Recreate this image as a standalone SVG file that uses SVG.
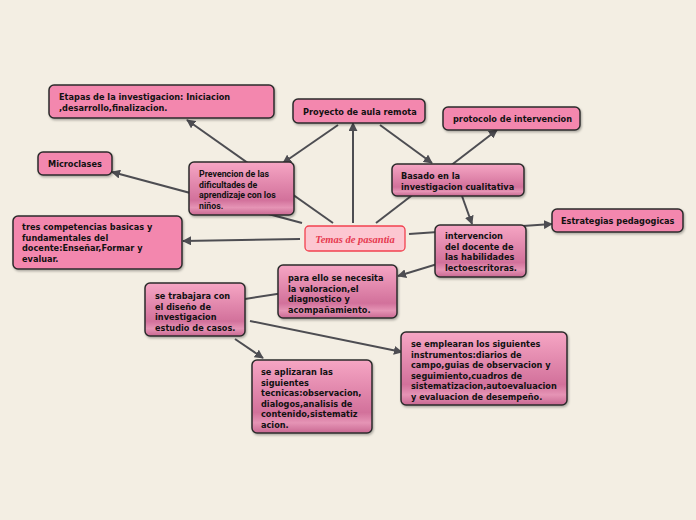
<svg xmlns="http://www.w3.org/2000/svg" width="696" height="520" viewBox="0 0 696 520">
<defs>
<linearGradient id="g" x1="0" y1="0" x2="0" y2="1">
<stop offset="0" stop-color="#f6a6c4"/>
<stop offset="0.72" stop-color="#d2719b"/>
<stop offset="0.86" stop-color="#e594b5"/>
<stop offset="1" stop-color="#c96892"/>
</linearGradient>
<filter id="sh" x="-10%" y="-10%" width="130%" height="140%">
<feDropShadow dx="1" dy="1.5" stdDeviation="1" flood-color="#000" flood-opacity="0.3"/>
</filter>
<marker id="ah" viewBox="0 0 10 10" refX="9" refY="5" markerWidth="4.5" markerHeight="4.5" orient="auto" markerUnits="strokeWidth">
<path d="M0,0 L10,5 L0,10 z" fill="#4d4d52"/>
</marker>
<style>
.flat{fill:#f387ae;stroke:#2b2b2b;stroke-width:1.5;filter:url(#sh)}
.grad{fill:url(#g);stroke:#2b2b2b;stroke-width:1.5;filter:url(#sh)}
.t{font-family:"DejaVu Sans Condensed","DejaVu Sans",sans-serif;font-weight:bold;font-size:9.1px;fill:#111}
.r{font-family:Roboto,"Liberation Sans",sans-serif;font-weight:bold;font-size:8.8px;fill:#111}
.c{fill:none;stroke:#4d4d52;stroke-width:2}
.a{marker-end:url(#ah)}
</style>
</defs>
<rect width="696" height="520" fill="#f3eee3"/>
<g id="connectors">
<line class="c a" x1="333" y1="223" x2="187" y2="120"/>
<line class="c a" x1="302" y1="223" x2="112" y2="172"/>
<line class="c a" x1="353" y1="223" x2="353" y2="123"/>
<line class="c a" x1="376" y1="223" x2="497" y2="130"/>
<line class="c a" x1="338" y1="125" x2="283" y2="163"/>
<line class="c a" x1="380" y1="125" x2="432" y2="163"/>
<line class="c a" x1="300" y1="239" x2="183" y2="241"/>
<line class="c a" x1="409" y1="234" x2="552" y2="224"/>
<line class="c a" x1="462" y1="196" x2="472" y2="224"/>
<line class="c a" x1="480" y1="251" x2="398" y2="276"/>
<line class="c" x1="245" y1="299" x2="290" y2="292"/>
<line class="c a" x1="250" y1="321" x2="402" y2="352"/>
<line class="c a" x1="235" y1="339" x2="263" y2="358"/>
</g>
<g id="n-etapas"><rect class="flat" x="49" y="85" width="225" height="33" rx="5"/><text class="t" x="59" y="100">Etapas de la investigacion: Iniciacion</text><text class="t" x="59" y="111">,desarrollo,finalizacion.</text></g>
<g id="n-proyecto"><rect class="flat" x="293" y="99" width="132" height="24" rx="5"/><text class="t" x="303" y="115">Proyecto de aula remota</text></g>
<g id="n-protocolo"><rect class="flat" x="443" y="107" width="137" height="23" rx="5"/><text class="t" x="453" y="122">protocolo de intervencion</text></g>
<g id="n-microclases"><rect class="flat" x="38" y="152" width="74" height="23" rx="5"/><text class="t" x="48" y="167">Microclases</text></g>
<g id="n-prevencion"><rect class="grad" x="189" y="162" width="105" height="53" rx="5"/><text class="r" x="199" y="177">Prevencion de las</text><text class="r" x="199" y="187.5">dificultades de</text><text class="r" x="199" y="198">aprendizaje con los</text><text class="r" x="199" y="208.5">niños.</text></g>
<g id="n-basado"><rect class="grad" x="392" y="164" width="132" height="32" rx="5"/><text class="t" x="401" y="179">Basado en la</text><text class="t" x="401" y="190">investigacion cualitativa</text></g>
<g id="n-competencias"><rect class="flat" x="13" y="216" width="169" height="53" rx="5"/><text class="t" x="22" y="230">tres competencias basicas y</text><text class="t" x="22" y="240.5">fundamentales del</text><text class="t" x="22" y="251">docente:Enseñar,Formar y</text><text class="t" x="22" y="261.5">evaluar.</text></g>
<g id="n-temas"><rect x="305" y="226" width="100" height="25" rx="4" fill="#fcc7d1" stroke="#f2414f" stroke-width="1.3"/><text x="355" y="242.5" text-anchor="middle" font-family="Liberation Serif,serif" font-style="italic" font-weight="bold" font-size="10.5" fill="#e6394f">Temas de pasantia</text></g>
<g id="n-estrategias"><rect class="flat" x="552" y="209" width="131" height="23" rx="5"/><text class="t" x="561" y="224">Estrategias pedagogicas</text></g>
<g id="n-intervencion"><rect class="grad" x="435" y="225" width="91" height="52" rx="5"/><text class="t" x="445" y="239">intervencion</text><text class="t" x="445" y="249.5">del docente de</text><text class="t" x="445" y="260">las habilidades</text><text class="t" x="445" y="270.5">lectoescritoras.</text></g>
<g id="n-paraello"><rect class="grad" x="278" y="265" width="119" height="53" rx="5"/><text class="t" x="288" y="281">para ello se necesita</text><text class="t" x="288" y="291.5">la valoracion,el</text><text class="t" x="288" y="302">diagnostico y</text><text class="t" x="288" y="312.5">acompañamiento.</text></g>
<g id="n-trabajara"><rect class="grad" x="145" y="283" width="100" height="53" rx="5"/><text class="t" x="155" y="299">se trabajara con</text><text class="t" x="155" y="309.5">el diseño de</text><text class="t" x="155" y="320">investigacion</text><text class="t" x="155" y="330.5">estudio de casos.</text></g>
<g id="n-aplizaran"><rect class="grad" x="252" y="360" width="120" height="73" rx="5"/><text class="t" x="261" y="375">se aplizaran las</text><text class="t" x="261" y="385.5">siguientes</text><text class="t" x="261" y="396">tecnicas:observacion,</text><text class="t" x="261" y="406.5">dialogos,analisis de</text><text class="t" x="261" y="417">contenido,sistematiz</text><text class="t" x="261" y="427.5">acion.</text></g>
<g id="n-emplearan"><rect class="grad" x="401" y="332" width="166" height="73" rx="5"/><text class="t" x="411" y="347">se emplearan los siguientes</text><text class="t" x="411" y="357.5">instrumentos:diarios de</text><text class="t" x="411" y="368">campo,guias de observacion y</text><text class="t" x="411" y="378.5">seguimiento,cuadros de</text><text class="t" x="411" y="389">sistematizacion,autoevaluacion</text><text class="t" x="411" y="399.5">y evaluacion de desempeño.</text></g>
</svg>
